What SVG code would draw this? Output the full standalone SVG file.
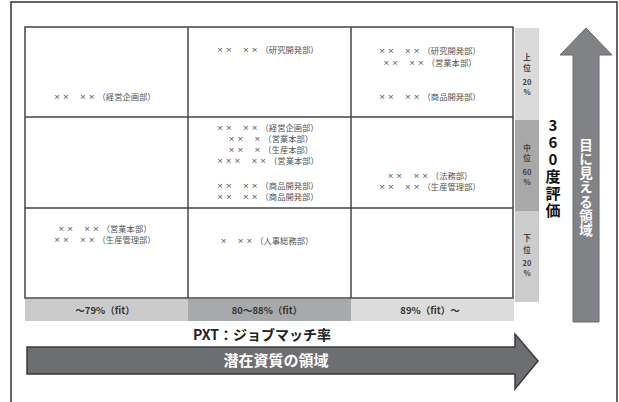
<svg xmlns="http://www.w3.org/2000/svg" width="619" height="402" viewBox="0 0 619 402">
<style>
text{font-family:"Noto Sans CJK JP","Noto Sans",sans-serif;}
.c{font-size:8.3px;fill:#555;text-anchor:middle;}
.x{font-family:"Liberation Sans",sans-serif;font-size:9.8px;letter-spacing:3px;fill:#555;}
.b{font-size:9.5px;font-weight:bold;fill:#333;text-anchor:middle;}
.s{font-size:7.5px;font-weight:bold;fill:#444;text-anchor:middle;}
.v{writing-mode:vertical-rl;text-orientation:upright;font-weight:bold;}
.grid{fill:none;stroke:#444;stroke-width:1.5;}
</style>
<rect width="619" height="402" fill="#fff"/>
<rect x="11" y="2" width="606" height="420" fill="none" stroke="#333" stroke-width="1.5"/>

<g id="bottom-bar">
<rect x="25" y="299" width="163" height="22" fill="#cbcbcb"/>
<rect x="188" y="299" width="163" height="22" fill="#a7a9ab"/>
<rect x="351" y="299" width="163" height="22" fill="#dcdcdc"/>
<text class="b" x="105" y="314">～79%（fit）</text>
<text class="b" x="267" y="314">80～88%（fit）</text>
<text class="b" x="430" y="314">89%（fit）～</text>
</g>

<g id="side-bar">
<rect x="515" y="28" width="24" height="92" fill="#dadada"/>
<rect x="515" y="120" width="24" height="91" fill="#a8a8a8"/>
<rect x="515" y="211" width="24" height="91" fill="#cccccc"/>
<text class="s"><tspan x="527" y="60">上</tspan><tspan x="527" y="71">位</tspan><tspan x="527" y="85">20</tspan><tspan x="527" y="95">%</tspan></text>
<text class="s"><tspan x="527" y="151">中</tspan><tspan x="527" y="161">位</tspan><tspan x="527" y="175">60</tspan><tspan x="527" y="185">%</tspan></text>
<text class="s"><tspan x="527" y="241">下</tspan><tspan x="527" y="253">位</tspan><tspan x="527" y="266">20</tspan><tspan x="527" y="276">%</tspan></text>
</g>

<g id="grid">
<rect class="grid" x="25" y="27" width="488" height="271"/>
<line class="grid" x1="188" y1="27" x2="188" y2="298"/>
<line class="grid" x1="351" y1="27" x2="351" y2="298"/>
<line class="grid" x1="25" y1="117" x2="513" y2="117"/>
<line class="grid" x1="25" y1="208" x2="513" y2="208"/>
</g>

<g id="cell-1-1"><text class="c" x="105" y="100"><tspan class="x">××</tspan>　<tspan class="x">××</tspan>（経営企画部）</text></g>
<g id="cell-2-1"><text class="c" x="268" y="53"><tspan class="x">××</tspan>　<tspan class="x">××</tspan>（研究開発部）</text></g>
<g id="cell-3-1">
<text class="c" x="430" y="54"><tspan class="x">××</tspan>　<tspan class="x">××</tspan>（研究開発部）</text>
<text class="c" x="430" y="66"><tspan class="x">××</tspan>　<tspan class="x">××</tspan>（営業本部）</text>
<text class="c" x="430" y="100"><tspan class="x">××</tspan>　<tspan class="x">××</tspan>（商品開発部）</text>
</g>
<g id="cell-2-2">
<text class="c" x="268" y="130.5"><tspan class="x">××</tspan>　<tspan class="x">××</tspan>（経営企画部）</text>
<text class="c" x="271" y="141.5"><tspan class="x">××</tspan>　<tspan class="x">×</tspan>（営業本部）</text>
<text class="c" x="271" y="152.5"><tspan class="x">××</tspan>　<tspan class="x">×</tspan>（生産本部）</text>
<text class="c" x="268" y="164"><tspan class="x">×××</tspan>　<tspan class="x">××</tspan>（営業本部）</text>
<text class="c" x="268" y="189"><tspan class="x">××</tspan>　<tspan class="x">××</tspan>（商品開発部）</text>
<text class="c" x="268" y="200"><tspan class="x">××</tspan>　<tspan class="x">××</tspan>（商品開発部）</text>
</g>
<g id="cell-3-2">
<text class="c" x="430" y="179"><tspan class="x">××</tspan>　<tspan class="x">××</tspan>（法務部）</text>
<text class="c" x="430" y="190"><tspan class="x">××</tspan>　<tspan class="x">××</tspan>（生産管理部）</text>
</g>
<g id="cell-1-3">
<text class="c" x="105" y="232"><tspan class="x">××</tspan>　<tspan class="x">××</tspan>（営業本部）</text>
<text class="c" x="105" y="243"><tspan class="x">××</tspan>　<tspan class="x">××</tspan>（生産管理部）</text>
</g>
<g id="cell-2-3"><text class="c" x="267" y="244"><tspan class="x">×</tspan>　<tspan class="x">××</tspan>（人事総務部）</text></g>

<g id="label-360">
<text class="v" x="553" y="118" font-size="15" letter-spacing="2" fill="#111">360度評価</text>
</g>

<g id="up-arrow">
<polygon points="586,28 612,55 599,55 599,322 573,322 573,55 560,55" fill="#808285" stroke="#6a6a6a" stroke-width="1"/>
<text class="v" x="586" y="138" font-size="13.5" letter-spacing="0.7" fill="#fff">目に見える領域</text>
</g>

<g id="pxt-label"><text x="262" y="340" font-size="14" font-weight="bold" fill="#222" text-anchor="middle">PXT：ジョブマッチ率</text></g>

<g id="right-arrow">
<polygon points="27,347 515,347 515,334 538,361 515,389 515,374 27,374" fill="#6d6e71" stroke="#3a3a3a" stroke-width="1.5"/>
<text x="276" y="366" font-size="15" font-weight="bold" fill="#fff" text-anchor="middle">潜在資質の領域</text>
</g>
</svg>
